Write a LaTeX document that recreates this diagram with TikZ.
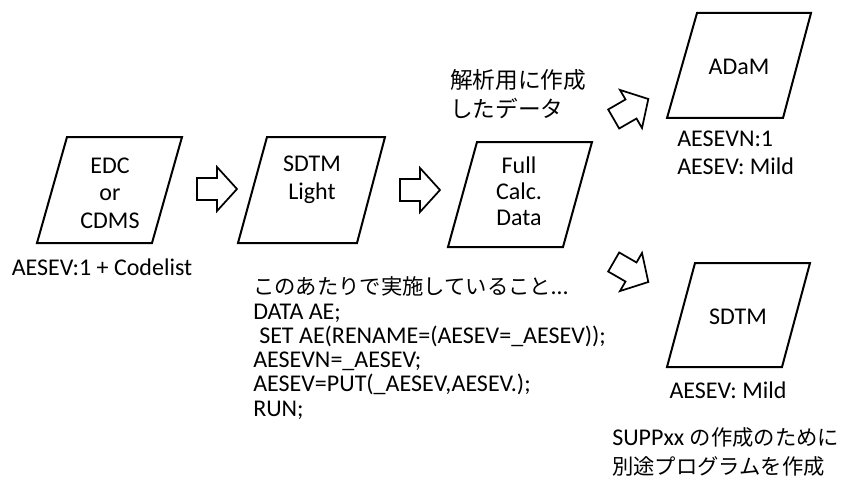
\documentclass[tikz,border=0pt]{standalone}
\usepackage{fontspec}
\setmainfont{Carlito}
\newfontfamily\jp{Noto Sans CJK JP}
\begin{document}
\begin{tikzpicture}[x=0.75pt,y=-0.75pt,
  box/.style={draw=black,line width=1.5pt,line join=miter},
  lbl/.style={inner sep=0pt,font=\fontsize{18}{20.6}\selectfont,align=center},
  blockarrow/.pic={\draw[line width=1.3pt,line join=miter]
     (-20,-11) -- (0,-11) -- (0,-22) -- (20,0) -- (0,22) -- (0,11) -- (-20,11) -- cycle;}]
\useasboundingbox (0,0) rectangle (857,478);

% boxes
\draw[box] (67,137) -- (182,137) -- (152,243) -- (37,243) -- cycle;
\draw[box] (267,137) -- (385,137) -- (357,243) -- (238,243) -- cycle;
\draw[box] (477,142) -- (592,142) -- (563,247) -- (448,247) -- cycle;
\draw[box] (697,13) -- (811,13) -- (783,118) -- (667,118) -- cycle;
\draw[box] (695,263) -- (810,263) -- (782,367) -- (667,367) -- cycle;

% box texts
\node[lbl] (edc) at (110,193) {EDC\\or\\CDMS};
\node[lbl] (sdtml) at (312,180) {SDTM\\Light};
\node[lbl,font=\fontsize{18}{19.5}\selectfont] (full) at (519,191) {Full\\Calc.\\Data};
\node[lbl] (adam) at (739,67) {ADaM};
\node[lbl] (sdtm) at (738,317) {SDTM};

% arrows
\pic at (217,189) {blockarrow};
\pic at (420,190) {blockarrow};
\pic[rotate=30] at (631,109) {blockarrow};
\pic[rotate=-30] at (631,272) {blockarrow};

% labels
\node[lbl] (codelist) at (102,267) {AESEV:1 + Codelist};
\node[lbl,anchor=west,align=left] (adamlbl) at (677,153) {AESEVN:1\\AESEV: Mild};
\node[lbl] (sdtmlbl) at (728,390) {AESEV: Mild};
\node[lbl,anchor=west,align=left,font=\fontsize{18}{21.6}\selectfont] (note) at (450,94)
  {\jp\fontsize{17}{21}\selectfont 解析用に作成\\\jp\fontsize{17}{21}\selectfont したデータ};
\node[lbl,anchor=west,align=left,font=\fontsize{18}{21.8}\selectfont] (supp) at (612,452)
  {SUPPxx {\jp\fontsize{16}{21}\selectfont の作成のために}\\{\jp\fontsize{16}{21}\selectfont 別途プログラムを作成}};
\node[lbl,anchor=west,align=left,font=\fontsize{18}{18.2}\selectfont] (code) at (253,348)
  {{\jp\fontsize{16}{18}\selectfont このあたりで実施していること}…\\
   DATA AE;\\
   \hspace{0.25em}SET AE(RENAME=(AESEV=\_AESEV));\\
   AESEVN=\_AESEV;\\
   AESEV=PUT(\_AESEV,AESEV.);\\
   RUN;};
\end{tikzpicture}
\end{document}
